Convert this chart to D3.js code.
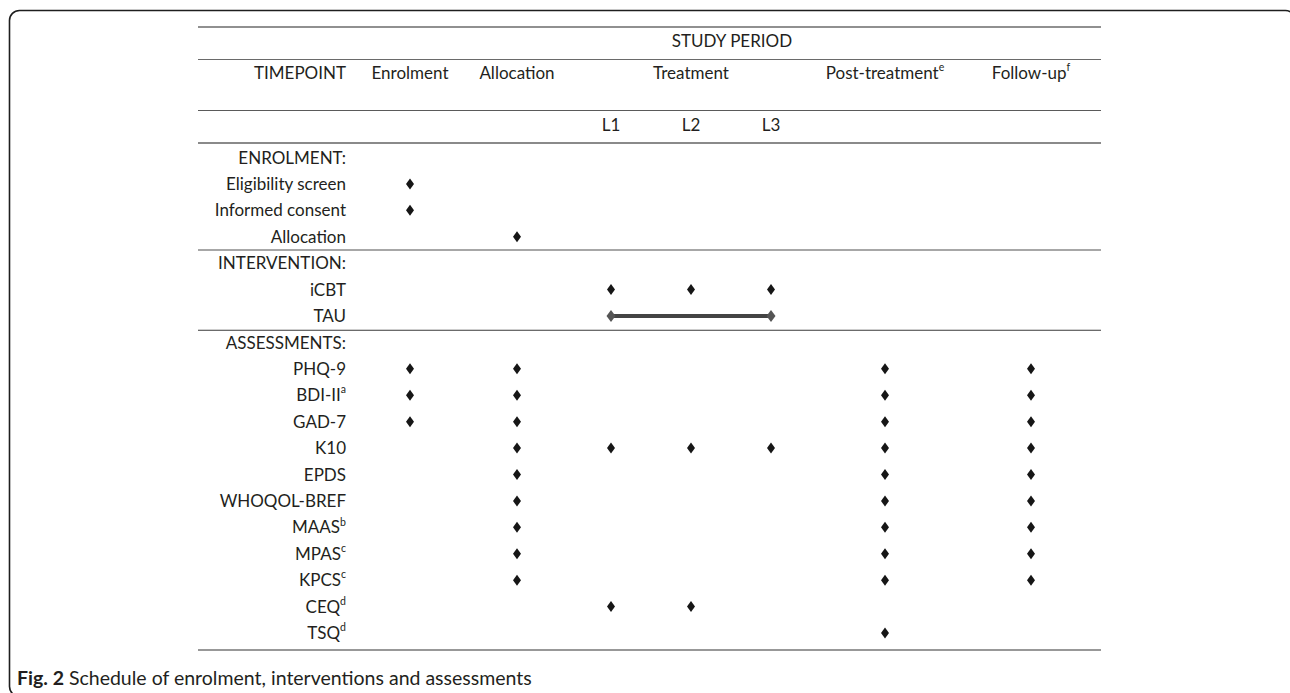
<!DOCTYPE html>
<html>
<head>
<meta charset="utf-8">
<script src="https://cdn.jsdelivr.net/npm/d3@7"></script>
<style>
  html, body { margin: 0; padding: 0; background: #fff; }
  svg { display: block; font-family: Lato, "Open Sans", sans-serif; }
</style>
</head>
<body>
<svg id="chart" width="1290" height="693"></svg>
<script>
// ── data ──────────────────────────────────────────────
const timepoints   = ['Enrolment', 'Allocation', 'L1', 'L2', 'L3', 'Post-treatment', 'Follow-up'];
const headerLabels = ['Enrolment', 'Allocation', 'Treatment', 'Post-treatment', 'Follow-up'];
const headerAnchor = ['Enrolment', 'Allocation', 'L2', 'Post-treatment', 'Follow-up'];
const headerNotes  = ['', '', '', 'e', 'f'];
const subLabels    = ['L1', 'L2', 'L3'];

const sections          = ['ENROLMENT:', 'INTERVENTION:', 'ASSESSMENTS:'];
const enrolmentItems    = ['Eligibility screen', 'Informed consent', 'Allocation'];
const interventionItems = ['iCBT', 'TAU'];
const assessmentItems   = ['PHQ-9', 'BDI-II', 'GAD-7', 'K10', 'EPDS', 'WHOQOL-BREF', 'MAAS', 'MPAS', 'KPCS', 'CEQ', 'TSQ'];
const itemNotes = { 'BDI-II': 'a', 'MAAS': 'b', 'MPAS': 'c', 'KPCS': 'c', 'CEQ': 'd', 'TSQ': 'd' };

// which timepoints each row is scheduled at
const schedule = [
  ['Eligibility screen', ['Enrolment']],
  ['Informed consent',   ['Enrolment']],
  ['Allocation',         ['Allocation']],
  ['iCBT',               ['L1', 'L2', 'L3']],
  ['PHQ-9',              ['Enrolment', 'Allocation', 'Post-treatment', 'Follow-up']],
  ['BDI-II',             ['Enrolment', 'Allocation', 'Post-treatment', 'Follow-up']],
  ['GAD-7',              ['Enrolment', 'Allocation', 'Post-treatment', 'Follow-up']],
  ['K10',                ['Allocation', 'L1', 'L2', 'L3', 'Post-treatment', 'Follow-up']],
  ['EPDS',               ['Allocation', 'Post-treatment', 'Follow-up']],
  ['WHOQOL-BREF',        ['Allocation', 'Post-treatment', 'Follow-up']],
  ['MAAS',               ['Allocation', 'Post-treatment', 'Follow-up']],
  ['MPAS',               ['Allocation', 'Post-treatment', 'Follow-up']],
  ['KPCS',               ['Allocation', 'Post-treatment', 'Follow-up']],
  ['CEQ',                ['L1', 'L2']],
  ['TSQ',                ['Post-treatment']]
];
// continuous exposure (row, from, to)
const spans = [['TAU', 'L1', 'L3']];

// ── layout ────────────────────────────────────────────
const FS = 17, INK = '#231f20';
const tableL = 198, tableR = 1101, labelR = 346;

const rows = [sections[0], ...enrolmentItems, sections[1], ...interventionItems, sections[2], ...assessmentItems];

const x = d3.scaleOrdinal().domain(timepoints).range([410, 517, 611, 691, 771, 885, 1031]);
const y = d3.scalePoint().domain(rows).range([157.5, 633]);

const svg = d3.select('#chart');

// frame
svg.append('rect')
  .attr('x', 9.5).attr('y', 10.5)
  .attr('width', 1286).attr('height', 686)
  .attr('rx', 10).attr('ry', 10)
  .attr('fill', 'none').attr('stroke', '#1e1e1e').attr('stroke-width', 1.6);

// rules
const rules = [
  { y: 27,    c: '#222',    w: 1.2 },
  { y: 59.5,  c: '#6a6a6a', w: 1 },
  { y: 110.5, c: '#5a5a5a', w: 1 },
  { y: 143,   c: '#8a8a8a', w: 2 },
  { y: (y(enrolmentItems[2]) + y(sections[1])) / 2, c: '#8a8a8a', w: 1.6 },
  { y: (y(interventionItems[1]) + y(sections[2])) / 2 + 1, c: '#3a3a3a', w: 1.1 },
  { y: y(assessmentItems[assessmentItems.length - 1]) + 17, c: '#333', w: 1.1 }
];
svg.append('g').selectAll('line').data(rules).join('line')
  .attr('x1', tableL).attr('x2', tableR)
  .attr('y1', d => d.y).attr('y2', d => d.y)
  .attr('stroke', d => d.c).attr('stroke-width', d => d.w);

const txt = svg.append('g').attr('fill', INK).attr('font-size', FS);

// header
txt.append('text').attr('x', 732).attr('y', 41).attr('dy', '0.36em')
  .attr('text-anchor', 'middle').text('STUDY PERIOD');
txt.append('text').attr('x', labelR).attr('y', 73).attr('dy', '0.36em')
  .attr('text-anchor', 'end').text('TIMEPOINT');

headerLabels.forEach((h, i) => {
  const t = txt.append('text').attr('x', x(headerAnchor[i])).attr('y', 73).attr('dy', '0.36em')
    .attr('text-anchor', 'middle');
  t.append('tspan').text(h);
  if (headerNotes[i]) t.append('tspan').attr('font-size', FS * 0.62).attr('dy', '-0.75em').text(headerNotes[i]);
});

txt.selectAll('.sub').data(subLabels).join('text').attr('class', 'sub')
  .attr('x', d => x(d)).attr('y', 125).attr('dy', '0.36em')
  .attr('text-anchor', 'middle').text(d => d);

// row labels
txt.selectAll('.row-label').data(rows).join('text').attr('class', 'row-label')
  .attr('x', labelR).attr('y', d => y(d)).attr('dy', '0.36em')
  .attr('text-anchor', 'end')
  .each(function(d) {
    const el = d3.select(this);
    el.append('tspan').text(d);
    if (itemNotes[d]) el.append('tspan').attr('font-size', FS * 0.62).attr('dy', '-0.75em').text(itemNotes[d]);
  });

// ── marks ─────────────────────────────────────────────
const diamond = (w, h) => `M0,${-h / 2}L${w / 2},0L0,${h / 2}L${-w / 2},0Z`;

const cells = schedule.flatMap(([row, cols]) => cols.map(c => ({ row, col: c })));

svg.append('g').selectAll('path').data(cells).join('path')
  .attr('transform', d => `translate(${x(d.col)},${y(d.row)})`)
  .attr('d', diamond(8, 11))
  .attr('fill', '#161616');

const spanG = svg.append('g');
spans.forEach(([row, from, to]) => {
  spanG.append('line')
    .attr('x1', x(from)).attr('x2', x(to))
    .attr('y1', y(row)).attr('y2', y(row))
    .attr('stroke', '#444').attr('stroke-width', 3.8);
  spanG.selectAll(null).data([from, to]).join('path')
    .attr('transform', d => `translate(${x(d)},${y(row)})`)
    .attr('d', diamond(9, 12))
    .attr('fill', '#555');
});

// caption
const cap = svg.append('text').attr('x', 17).attr('y', 678).attr('dy', '0.36em')
  .attr('font-size', 19.5).attr('fill', INK);
cap.append('tspan').attr('font-weight', 700).text('Fig. 2');
cap.append('tspan').text(' Schedule of enrolment, interventions and assessments');
</script>
</body>
</html>
